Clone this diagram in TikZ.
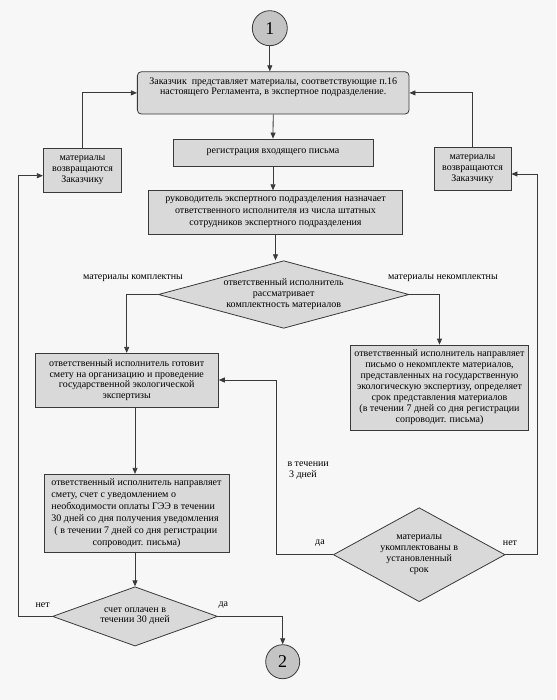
\documentclass[tikz,border=0pt]{standalone}
\usepackage{fontspec}
\setmainfont{Liberation Serif}
\usetikzlibrary{shapes.geometric,arrows.meta,calc}
\definecolor{boxgray}{HTML}{D9D9D9}
\definecolor{circgray}{HTML}{C4C4C4}
\definecolor{linegray}{HTML}{3A3A3A}
\definecolor{paper}{HTML}{F7F7F7}
\begin{document}
\begin{tikzpicture}[x=1pt,y=-1pt,
  txt/.style={font=\fontsize{10}{11}\selectfont, align=center, inner sep=0pt},
  box/.style={draw=linegray, fill=boxgray, line width=0.8pt, inner sep=0pt, align=center,
              font=\fontsize{10}{11}\selectfont},
  dia/.style={draw=linegray, fill=boxgray, line width=0.8pt, shape=diamond, inner sep=0pt},
  circ/.style={draw=linegray, fill=circgray, line width=0.8pt, circle, inner sep=0pt,
               minimum size=35pt, font=\fontsize{18}{18}\selectfont},
  arr/.style={draw=linegray, line width=0.8pt, -{Triangle[length=6pt,width=5pt]}},
  ln/.style={draw=linegray, line width=0.8pt}]
\fill[paper] (0,0) rectangle (556,700);
\useasboundingbox (0,0) rectangle (556,700);

% circles
\node[circ] (c1) at (269.8,28.2) {1};
\node[circ, minimum size=34pt] (c2) at (282.7,661.7) {2};

% boxes
\node[box, rounded corners=4pt, minimum width=271.7pt, minimum height=42.3pt] (top) at (273.2,92.9)
  {Заказчик\ \ представляет материалы, соответствующие п.16\\[-0.5pt]
   настоящего Регламента, в экспертное подразделение.\\[2pt]};
\node[box, minimum width=200pt, minimum height=27pt] (reg) at (273,152.5)
  {регистрация входящего письма};
\node[box, minimum width=253.7pt, minimum height=43.6pt, font=\fontsize{10}{12}\selectfont] (b3) at (275.5,212.5)
  {руководитель экспертного подразделения назначает\\
   ответственного исполнителя из числа штатных\\
   сотрудников экспертного подразделения};
\node[box, minimum width=78.4pt, minimum height=44pt] (lb) at (82.5,170.3)
  {материалы\\возвращаются\\Заказчику};
\node[box, minimum width=77pt, minimum height=43.7pt] (rb1) at (472.5,168.9)
  {материалы\\возвращаются\\Заказчику};

% diamond 1
\node[dia, minimum width=250.7pt, minimum height=67.6pt] (d1) at (283.7,294.5) {};
\node[txt] at (d1.center) {ответственный исполнитель\\рассматривает\\комплектность материалов};
\node[txt] (lk) at (133,278.3) {материалы комплектны};
\node[txt] (lnk) at (443,278) {материалы некомплектны};

\node[box, minimum width=183.3pt, minimum height=54pt, font=\fontsize{10}{10.5}\selectfont] (b4) at (126.7,380.3)
  {ответственный исполнитель готовит\\
   смету на организацию и проведение\\
   государственной экологической\\
   экспертизы};
\node[box, minimum width=178pt, minimum height=85pt] (rb2) at (439.5,387.5)
  {ответственный исполнитель направляет\\
   письмо о некомплекте материалов,\\
   представленных на государственную\\
   экологическую экспертизу, определяет\\
   срок представления материалов\\
   (в течении 7 дней со дня регистрации\\
   сопроводит. письма)};
\node[box, minimum width=185pt, minimum height=78pt, font=\fontsize{10}{12}\selectfont] (b5) at (136.5,513.3)
  {\begin{tabular}{@{}l@{}}
   ответственный исполнитель направляет\\
   смету, счет с уведомлением о\\
   необходимости оплаты ГЭЭ в течении\\
   30 дней со дня получения уведомления\\
   \hspace{3pt}( в течении 7 дней со дня регистрации\\
   \multicolumn{1}{@{}c@{}}{сопроводит. письма)}
   \end{tabular}};

% diamond 2
\node[dia, minimum width=171.7pt, minimum height=94pt] (d2) at (419.2,554.7) {};
\node[txt] at (d2.center) {материалы\\укомплектованы в\\установленный\\срок};
% diamond 3
\node[dia, minimum width=165pt, minimum height=59.3pt] (d3) at (135,616.4) {};
\node[txt, font=\fontsize{10}{10}\selectfont] at (d3.center) {счет оплачен в\\течении 30 дней};

% labels
\node[txt, align=left, anchor=west] (l3d) at (287.3,471) {в течении\\\hspace{1.5pt}3 дней};
\node[txt] (da2) at (320,543.3) {да};
\node[txt] (net2) at (510,543.3) {нет};
\node[txt] (net3) at (42.7,605) {нет};
\node[txt] (da3) at (223.3,605) {да};

% helper coordinates
\coordinate (lx) at (18.3,175.7);
\coordinate (rx) at (537,174);
\coordinate (mx) at (276.7,380);

% connectors
\draw[arr] (c1.south) -- (c1.south |- top.north);
\draw[arr] (top.south) -- (reg.north);
\draw[arr] (reg.south) -- (reg.south |- b3.north);
\draw[arr] (b3.south) -- (b3.south |- d1.north);
\draw[arr] (d1.west) -| (b4.north);
\draw[arr] (d1.east) -| (rb2.north);
\draw[arr] (b4.south -| d3.north) -- (b5.north -| d3.north);
\draw[arr] (b5.south -| d3.north) -- (d3.north);
\draw[arr] (d3.west) -| (lx) -- (lx -| lb.west);
\draw[arr] (lb.north) |- (top.west);
\draw[arr] (rb1.north) |- (top.east);
\draw[arr] (d2.east) -| (rx) -- (rx -| rb1.east);
\draw[arr] (d2.west) -| (mx) -- (mx -| b4.east);
\draw[arr] (d3.east) -| (c2.north);
\end{tikzpicture}
\end{document}
